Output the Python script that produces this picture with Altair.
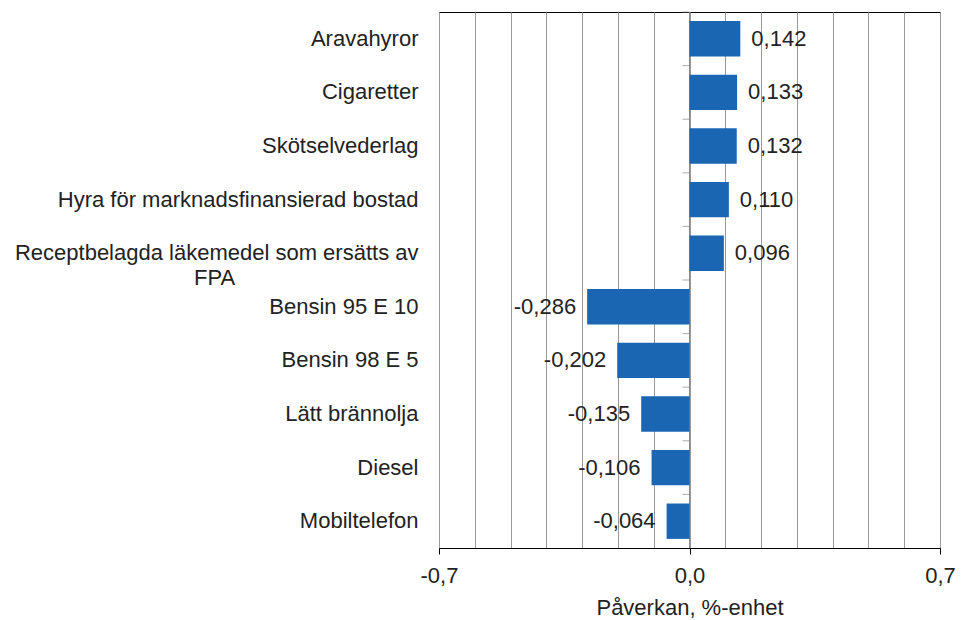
import altair as alt
import pandas as pd

categories = [
    "Aravahyror",
    "Cigaretter",
    "Skötselvederlag",
    "Hyra för marknadsfinansierad bostad",
    "Receptbelagda läkemedel som ersätts av FPA",
    "Bensin 95 E 10",
    "Bensin 98 E 5",
    "Lätt brännolja",
    "Diesel",
    "Mobiltelefon",
]
values = [0.142, 0.133, 0.132, 0.110, 0.096, -0.286, -0.202, -0.135, -0.106, -0.064]
grid_values = [round(-0.7 + 0.1 * i, 1) for i in range(15)]
tick_values = [-0.7, 0.0, 0.7]
tick_labels = ["-0,7", "0,0", "0,7"]
x_title = "Påverkan, %-enhet"

long_cat = "Receptbelagda läkemedel som ersätts av FPA"
long_lines = ["Receptbelagda läkemedel som ersätts av", "FPA" + "\u00a0" * 30 + "\u200b"]

FONT = "Liberation Sans"
BAR = "#1a66b2"
TXT = "#222222"
GRID = "#999999"
ZERO = "#888888"
W, H = 501, 536
N = len(categories)

df = pd.DataFrame({
    "cat": categories,
    "v": values,
    "lab": [f"{v:.3f}".replace(".", ",") for v in values],
})

parts = []
tests = []
for tv, tl in zip(tick_values, tick_labels):
    t = f"abs(datum.value - ({tv})) < 1e-6"
    tests.append(t)
    parts.append(f"{t} ? '{tl}' : ")
x_label_expr = "".join(parts) + "''"
major_test = " || ".join(tests)

y_label_expr = (
    f"datum.value == '{long_cat}' ? ['{long_lines[0]}', '{long_lines[1]}'] : datum.value"
)

x_scale = alt.Scale(domain=[-0.7, 0.7], nice=False, zero=False)
y_scale = alt.Scale(domain=categories, paddingInner=0.34, paddingOuter=0.17)

x_axis = alt.Axis(
    values=grid_values,
    labelExpr=x_label_expr,
    tickOpacity={"condition": {"test": major_test, "value": 1}, "value": 0},
    grid=True,
    gridColor=GRID,
    gridWidth=1,
    domainColor="#000000",
    tickColor="#000000",
    tickSize=6,
    labelFont=FONT,
    labelFontSize=22,
    labelColor=TXT,
    labelPadding=11,
    labelOverlap=False,
    labelFlush=False,
    title=x_title,
    titleFont=FONT,
    titleFontSize=22,
    titleFontWeight="normal",
    titleColor=TXT,
    titlePadding=11,
)
y_axis = alt.Axis(
    title=None,
    ticks=False,
    domain=False,
    labelExpr=y_label_expr,
    labelFont=FONT,
    labelFontSize=22,
    labelColor=TXT,
    labelPadding=21,
    labelLimit=0,
    labelLineHeight=25,
    labelAlign="right",
)

X = alt.X("v:Q", scale=x_scale, axis=x_axis, title=x_title)
Y = alt.Y("cat:N", scale=y_scale, sort=categories, axis=y_axis)
X0 = alt.X(datum=0, scale=x_scale, axis=x_axis, title=x_title)

base = alt.Chart(df)

bars = base.mark_bar(color=BAR).encode(x=X, y=Y)

zero_line = base.mark_rule(color=ZERO, strokeWidth=1).encode(x=X0)

zero_ticks = base.mark_tick(
    orient="horizontal", color=ZERO, thickness=1, size=7,
    xOffset=-3.5, yOffset=-H / N / 2,
).encode(x=X0, y=Y)

pos_labels = base.transform_filter("datum.v >= 0").mark_text(
    align="left", baseline="middle", dx=11, font=FONT, fontSize=22, color=TXT
).encode(x=X, y=Y, text="lab:N")

neg_labels = base.transform_filter("datum.v < 0").mark_text(
    align="right", baseline="middle", dx=-11, font=FONT, fontSize=22, color=TXT
).encode(x=X, y=Y, text="lab:N")

chart = (
    alt.layer(zero_line, bars, zero_ticks, pos_labels, neg_labels)
    .properties(
        width=W,
        height=H,
        autosize=alt.AutoSizeParams(type="none"),
        padding={"left": 431, "top": 4, "right": 18, "bottom": 72},
        background="#ffffff",
    )
    .configure_view(stroke="#000000", strokeWidth=1)
)

chart.save("out.html", embed_options={"renderer": "svg", "actions": False})
